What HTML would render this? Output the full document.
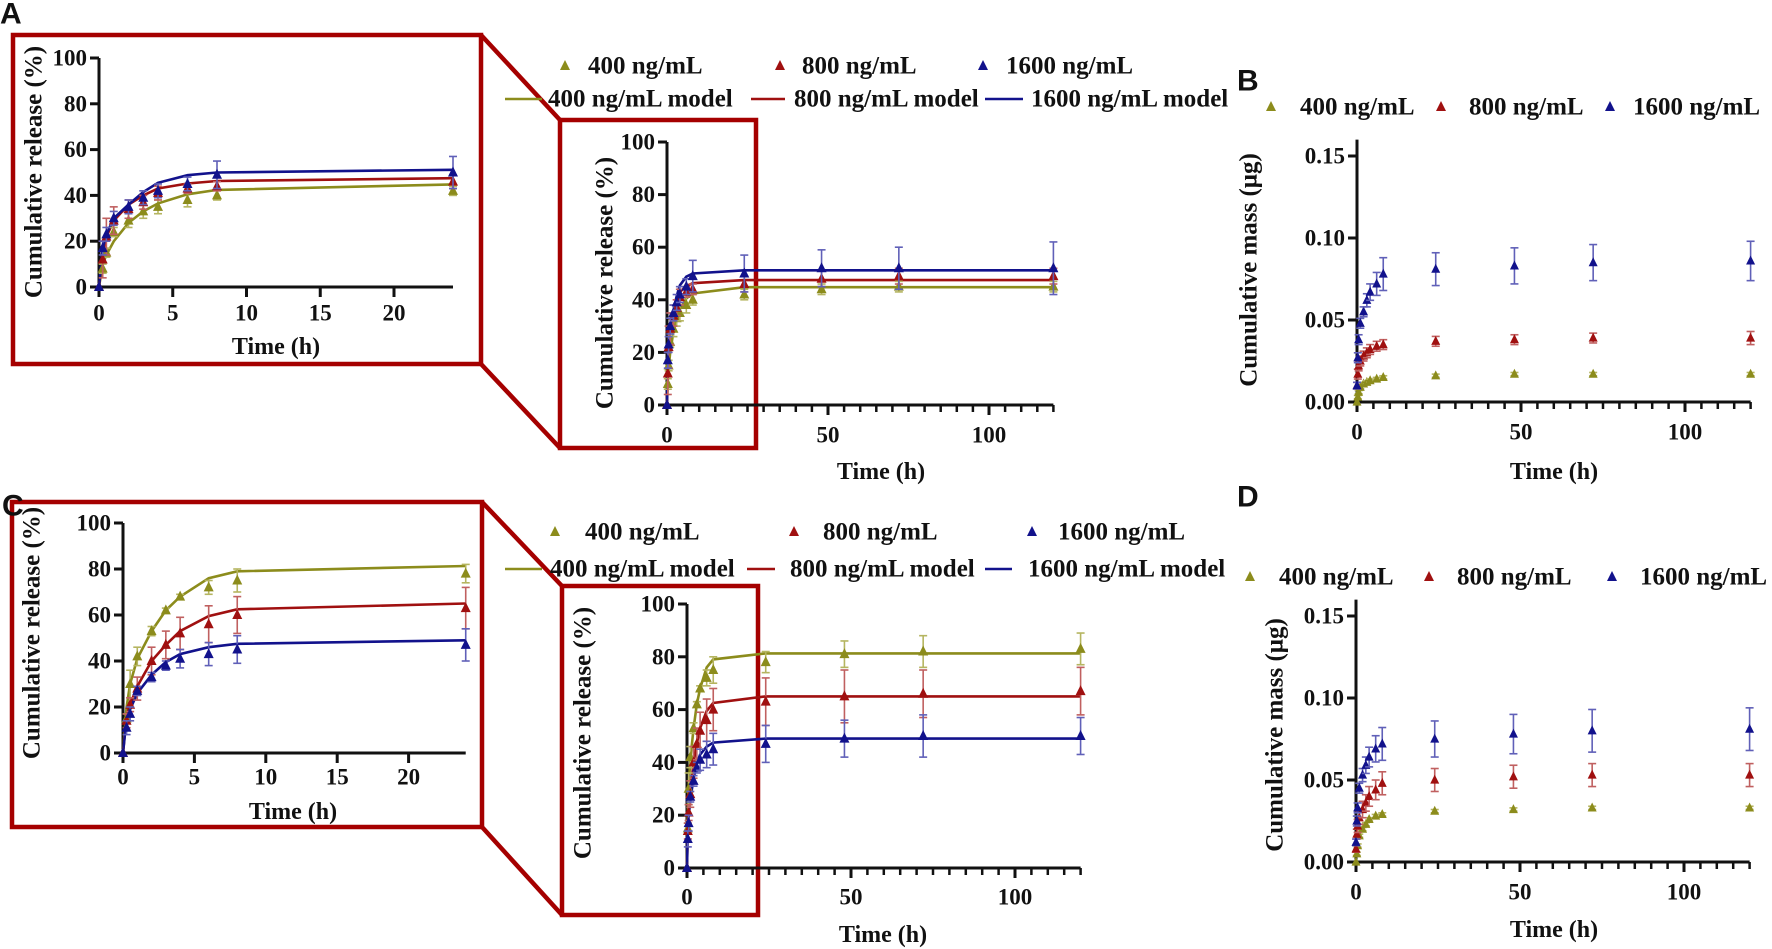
<!DOCTYPE html>
<html><head><meta charset="utf-8"><style>
html,body{margin:0;padding:0;background:#fff}
svg{display:block}
text{font-family:"Liberation Serif",serif;font-weight:bold;fill:#111}
.pl{font-family:"Liberation Sans",sans-serif;font-weight:bold;font-size:30px}
</style></head><body>
<svg id="fig" width="1772" height="949" viewBox="0 0 1772 949" xmlns="http://www.w3.org/2000/svg"></svg>
<script>
// ---- data ----
const times = [0,0.25,0.5,1,2,3,4,6,8,24,48,72,120];
// Panel A release (%)
const aRel400 = [0,8,15,24,29,33,35,38,40,42,44,45,45];
const aRel400Err = [0,2,2,2,3,3,3,3,2,2,2,2,2];
const aRel800 = [0,12,22,29,34,37,41,43,44,46,48,49,49];
const aRel800Err = [0,8,8,6,4,3,3,2,2,3,3,3,3];
const aRel1600 = [0,17,23,30,35,39,42,45,49,50,52,52,52];
const aRel1600Err = [0,3,3,3,3,3,3,3,6,7,7,8,10];
const aMod400 = [0,10,14,20,28,33,36.5,40.5,42.4,44.8,44.8,44.8,44.8];
const aMod800 = [0,15,22,29,36,40,43,45.2,46.3,47.5,47.5,47.5,47.5];
const aMod1600 = [0,17,23,30,36,41.5,45.5,48.8,50,51.2,51.2,51.2,51.2];
// Panel B mass (µg)
const bMass400 = [0,0.003,0.006,0.009,0.011,0.012,0.013,0.014,0.015,0.016,0.017,0.017,0.017];
const bMass400Err = [0,0.001,0.001,0.001,0.001,0.001,0.001,0.001,0.001,0.001,0.001,0.001,0.001];
const bMass800 = [0.01,0.017,0.022,0.025,0.028,0.030,0.032,0.034,0.035,0.037,0.038,0.039,0.039];
const bMass800Err = [0.002,0.003,0.003,0.003,0.003,0.003,0.003,0.003,0.003,0.003,0.003,0.003,0.004];
const bMass1600 = [0.01,0.027,0.038,0.048,0.055,0.062,0.067,0.072,0.078,0.081,0.083,0.085,0.086];
const bMass1600Err = [0.002,0.003,0.003,0.003,0.003,0.004,0.005,0.007,0.01,0.01,0.011,0.011,0.012];
// Panel C release (%)
const cRel400 = [0,15,30,42,53,62,68,72,75,78,81,82,83];
const cRel400Err = [0,2,6,4,2,1,1,3,5,4,5,6,6];
const cRel800 = [0,14,21,28,40,47,52,56,60,63,65,66,67];
const cRel800Err = [0,3,3,5,6,6,7,8,8,9,10,9,9];
const cRel1600 = [0,11,17,27,33,38,41,43,45,47,49,50,50];
const cRel1600Err = [0,3,3,2,2,2,4,5,6,7,7,8,7];
const cMod400 = [0,20,30,41,53,62,68,76,79,81.3,81.3,81.3,81.3];
const cMod800 = [0,16,21,29,40,47,53,59.5,62.5,65,65,65,65];
const cMod1600 = [0,15,19,26,34,39.5,43,46,47.5,49,49,49,49];
// Panel D mass (µg)
const dMass400 = [0,0.005,0.01,0.016,0.02,0.023,0.026,0.028,0.029,0.031,0.032,0.033,0.033];
const dMass400Err = [0,0.001,0.001,0.001,0.001,0.001,0.001,0.001,0.001,0.001,0.001,0.001,0.001];
const dMass800 = [0.008,0.017,0.022,0.027,0.032,0.036,0.040,0.044,0.048,0.050,0.052,0.053,0.053];
const dMass800Err = [0.002,0.003,0.004,0.004,0.005,0.005,0.006,0.006,0.007,0.007,0.007,0.007,0.007];
const dMass1600 = [0.012,0.025,0.033,0.045,0.053,0.059,0.064,0.069,0.072,0.075,0.078,0.080,0.081];
const dMass1600Err = [0.002,0.003,0.003,0.003,0.004,0.005,0.006,0.008,0.01,0.011,0.012,0.013,0.013];
const legendLabels = ["400 ng/mL","800 ng/mL","1600 ng/mL"];
const modelLabels = ["400 ng/mL model","800 ng/mL model","1600 ng/mL model"];
const relTicks = [0,20,40,60,80,100];
const massTicks = [0,0.05,0.10,0.15];
const massTickLabels = ["0.00","0.05","0.10","0.15"];
const insetXTicks = [0,5,10,15,20];
const mainXTicks = [0,50,100];

const COL = ["#8c8c1c","#a01010","#12128c"];
const ECOL = ["#b5b560","#c06060","#6060b8"];
const RED = "#a50000";
const NS = "http://www.w3.org/2000/svg";
const svg = document.getElementById('fig');
function mk(tag, attrs, parent){const e=document.createElementNS(NS,tag);for(const k in attrs)e.setAttribute(k,attrs[k]);(parent||svg).appendChild(e);return e;}
function txt(s, attrs, parent){const e=mk('text',attrs,parent);e.textContent=s;return e;}
function tri(g,x,y,s,c){return mk('path',{d:`M${x} ${y-s*0.6} L${x+s/2} ${y+s*0.4} L${x-s/2} ${y+s*0.4} Z`,fill:c},g);}

function chart(cfg){
  const g = mk('g',{});
  
  
  const X = t => cfg.x0 + t*cfg.xs;
  const Y = v => cfg.y0 - v*cfg.ys;
  const yax = mk('line',{x1:X(0),y1:cfg.y0+1.5,x2:X(0),y2:Y(cfg.ymax),stroke:'#111','stroke-width':3},g);
  
  
  const xax = mk('line',{x1:X(0)-9,y1:cfg.y0,x2:X(cfg.xmax),y2:cfg.y0,stroke:'#111','stroke-width':3},g);
  
  
  cfg.yticks.forEach((v,i)=>{
    mk('line',{x1:X(0)-9,y1:Y(v),x2:X(0),y2:Y(v),stroke:'#111','stroke-width':3},g);
    const t = txt(cfg.ylabels[i],{x:X(0)-12,y:Y(v),'text-anchor':'end','dominant-baseline':'central','font-size':cfg.fs},g);
    
    
  });
  if(cfg.minor){ for(let t=5;t<=cfg.xmax;t+=5){ mk('line',{x1:X(t),y1:cfg.y0,x2:X(t),y2:cfg.y0+(t%50===0?10:7),stroke:'#111','stroke-width':2.5},g);} }
  cfg.xticks.forEach(v=>{
    mk('line',{x1:X(v),y1:cfg.y0,x2:X(v),y2:cfg.y0+10,stroke:'#111','stroke-width':3},g);
    const t = txt(String(v),{x:X(v),y:cfg.tly,'text-anchor':'middle','dominant-baseline':'central','font-size':cfg.fs},g);
    
    
  });
  const xt = txt('Time (h)',{x:cfg.xl[0],y:cfg.xl[1],'text-anchor':'middle','dominant-baseline':'central','font-size':24},g);
  
  
  const yt = txt(cfg.ytitle,{x:0,y:0,'text-anchor':'middle','dominant-baseline':'central','font-size':25,transform:`translate(${cfg.yl[0]},${cfg.yl[1]}) rotate(-90)`},g);
  
  
  const n = times.filter(t=>t<=cfg.xmax).length;
  (cfg.models||[]).forEach((m,si)=>{
    let d='';
    for(let i=0;i<n;i++) d += (i?'L':'M') + X(times[i]).toFixed(1)+' '+Y(m[i]).toFixed(1);
    const p = mk('path',{d,fill:'none',stroke:COL[si],'stroke-width':2.6},g);
    
    
  });
  cfg.series.forEach((s,si)=>{
    const err = cfg.errs[si];
    for(let i=0;i<n;i++){
      const x=X(times[i]), y=Y(s[i]), e=err[i]*cfg.ys;
      if(e>1){
        mk('line',{x1:x,y1:y-e,x2:x,y2:y+e,stroke:ECOL[si],'stroke-width':1.6},g);
        mk('line',{x1:x-4,y1:y-e,x2:x+4,y2:y-e,stroke:ECOL[si],'stroke-width':1.6},g);
        mk('line',{x1:x-4,y1:y+e,x2:x+4,y2:y+e,stroke:ECOL[si],'stroke-width':1.6},g);
      }
      const p = tri(g,x,y,cfg.ms,COL[si]);
      
      
    }
  });
}

function legendRow(y, items, isLine){
  items.forEach(it=>{
    if(isLine){
      const l = mk('line',{x1:it[0],y1:y,x2:it[1],y2:y,stroke:COL[it[3]],'stroke-width':2.6});
      
      
      const t = txt(modelLabels[it[3]],{x:it[2],y:y,'dominant-baseline':'central','font-size':25});
      
      
    } else {
      const p = tri(svg,it[0],y,10,COL[it[2]]);
      
      
      const t = txt(legendLabels[it[2]],{x:it[1],y:y,'dominant-baseline':'central','font-size':25});
      
      
    }
  });
}

function box(x1,y1,x2,y2,name){
  const r = mk('rect',{x:x1,y:y1,width:x2-x1,height:y2-y1,fill:'none',stroke:RED,'stroke-width':4.5});
  
  
}
function conn(a,b,c,d){mk('line',{x1:a,y1:b,x2:c,y2:d,stroke:RED,'stroke-width':4.5});}
box(13,35,481,364,'inset-box-a'); box(560,120,756,448,'zoom-box-a');
conn(481,35,560,120); conn(481,364,560,448);
box(12,502,482,827,'inset-box-c'); box(562,586,758,915,'zoom-box-c');
conn(482,502,562,586); conn(482,827,562,915);

const relLabels = relTicks.map(String);
chart({name:'chart-a-inset',x0:99,xs:14.75,xmax:24,y0:287,ys:2.29,ymax:100,yticks:relTicks,ylabels:relLabels,xticks:insetXTicks,tly:313,xl:[276,347],yl:[34,172],ytitle:'Cumulative release (%)',fs:23,ms:10,series:[aRel400,aRel800,aRel1600],errs:[aRel400Err,aRel800Err,aRel1600Err],models:[aMod400,aMod800,aMod1600]});
chart({name:'chart-a-main',x0:667,xs:3.22,xmax:120,y0:405,ys:2.63,ymax:100,yticks:relTicks,ylabels:relLabels,xticks:mainXTicks,minor:true,tly:435,xl:[881,472],yl:[605,283],ytitle:'Cumulative release (%)',fs:23,ms:10,series:[aRel400,aRel800,aRel1600],errs:[aRel400Err,aRel800Err,aRel1600Err],models:[aMod400,aMod800,aMod1600]});
chart({name:'chart-b',x0:1357,xs:3.28,xmax:120,y0:402,ys:1640,ymax:0.16,yticks:massTicks,ylabels:massTickLabels,xticks:mainXTicks,minor:true,tly:432,xl:[1554,472],yl:[1249,270],ytitle:'Cumulative mass (μg)',fs:23,ms:9,series:[bMass400,bMass800,bMass1600],errs:[bMass400Err,bMass800Err,bMass1600Err]});
chart({name:'chart-c-inset',x0:123,xs:14.28,xmax:24,y0:753,ys:2.3,ymax:100,yticks:relTicks,ylabels:relLabels,xticks:insetXTicks,tly:777,xl:[293,812],yl:[32,633],ytitle:'Cumulative release (%)',fs:23,ms:10,series:[cRel400,cRel800,cRel1600],errs:[cRel400Err,cRel800Err,cRel1600Err],models:[cMod400,cMod800,cMod1600]});
chart({name:'chart-c-main',x0:687,xs:3.28,xmax:120,y0:868,ys:2.64,ymax:100,yticks:relTicks,ylabels:relLabels,xticks:mainXTicks,minor:true,tly:897,xl:[883,935],yl:[583,733],ytitle:'Cumulative release (%)',fs:23,ms:10,series:[cRel400,cRel800,cRel1600],errs:[cRel400Err,cRel800Err,cRel1600Err],models:[cMod400,cMod800,cMod1600]});
chart({name:'chart-d',x0:1356,xs:3.28,xmax:120,y0:862,ys:1640,ymax:0.16,yticks:massTicks,ylabels:massTickLabels,xticks:mainXTicks,minor:true,tly:892,xl:[1554,930],yl:[1275,735],ytitle:'Cumulative mass (μg)',fs:23,ms:9,series:[dMass400,dMass800,dMass1600],errs:[dMass400Err,dMass800Err,dMass1600Err]});

legendRow(66,[[565,588,0],[780,802,1],[983,1006,2]],false);
legendRow(99,[[505,542,548,0],[751,785,794,1],[985,1023,1031,2]],true);
legendRow(107,[[1271,1300,0],[1441,1469,1],[1610,1633,2]],false);
legendRow(532,[[555,585,0],[794,823,1],[1032,1058,2]],false);
legendRow(569,[[505,542,550,0],[747,775,790,1],[985,1012,1028,2]],true);
legendRow(577,[[1250,1279,0],[1429,1457,1],[1612,1640,2]],false);

[['A',0,14],['B',1237,81],['C',2,506],['D',1237,497]].forEach(p=>{
  const t = txt(p[0],{x:p[1],y:p[2],'dominant-baseline':'central',class:'pl'});
  
  
});
</script>
</body></html>
